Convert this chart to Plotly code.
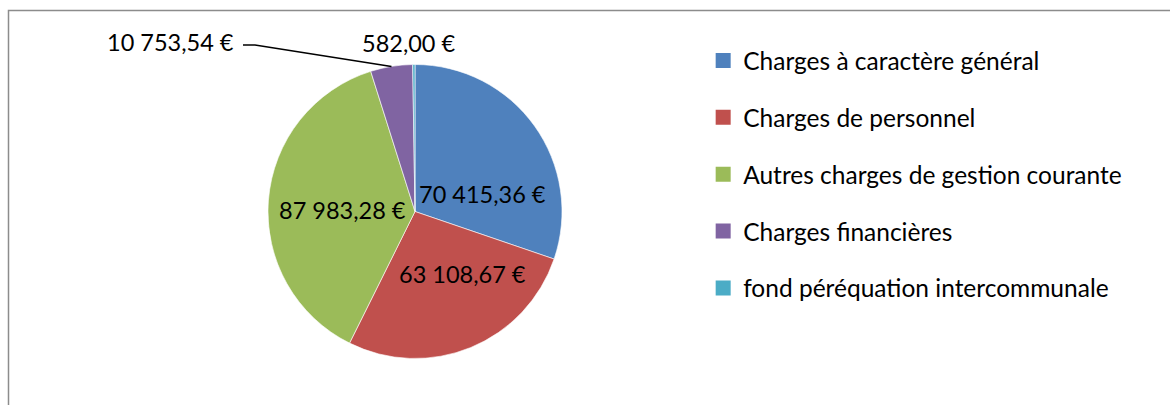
import math
import plotly.graph_objects as go

labels = ["Charges à caractère général", "Charges de personnel",
          "Autres charges de gestion courante", "Charges financières",
          "fond péréquation intercommunale"]
values = [70415.36, 63108.67, 87983.28, 10753.54, 582.00]
colors = ["#4F81BD", "#C0504D", "#9BBB59", "#8064A2", "#4BACC6"]

W, H = 1170, 405
FONT = "Lato"
FS_LAB = 23.5
FS_LEG = 24.5

# pie geometry (pixels)
cx_px, cy_px, r_px = 415, 211.5, 147
# label placement offsets from pie centre (px), like Excel "best fit"
inside_offsets = [(67.5, -17.5), (47, 62.5), (-72.5, -1.5)]


def fmt(v):
    s = f"{v:,.2f}"
    return s.replace(",", " ").replace(".", ",") + " €"


def edge_point(i):
    total = sum(values)
    start = sum(values[:i]) / total * 360
    mid = start + values[i] / total * 180
    a = math.radians(mid)
    return cx_px + r_px * math.sin(a), cy_px - r_px * math.cos(a)


def P(x, y):
    return x / W, 1 - y / H


fig = go.Figure()
x0, y0 = P(cx_px - r_px, cy_px + r_px)
x1, y1 = P(cx_px + r_px, cy_px - r_px)
fig.add_trace(go.Pie(
    labels=labels, values=values, sort=False, direction="clockwise",
    rotation=0,
    marker=dict(colors=colors, line=dict(color="white", width=0.6)),
    textinfo="none",
    domain=dict(x=[x0, x1], y=[y0, y1]),
    showlegend=False, hoverinfo="label+value",
))

for lab, col in zip(labels, colors):
    fig.add_trace(go.Scatter(
        x=[None], y=[None], mode="markers", name=lab, legendgroup=lab,
        marker=dict(symbol="square", size=15, color=col, line=dict(width=0)),
    ))

lab_font = dict(family=FONT, size=FS_LAB, color="black")

# inside labels
for v, (dx, dy) in zip(values[:3], inside_offsets):
    ax_, ay_ = P(cx_px + dx, cy_px + dy)
    fig.add_annotation(x=ax_, y=ay_, xref="paper", yref="paper", text=fmt(v),
                       showarrow=False, xanchor="center", yanchor="middle",
                       font=lab_font)

# outside labels
ex, ey = edge_point(3)
ax_, ay_ = P(236, 42)
fig.add_annotation(x=ax_, y=ay_, xref="paper", yref="paper",
                   text=fmt(values[3]), showarrow=False, xanchor="right",
                   yanchor="middle", font=lab_font)
fig.add_shape(type="path", xref="paper", yref="paper",
              path=f"M {243/W} {1-45/H} L {255/W} {1-45/H} L {ex/W} {1-ey/H}",
              line=dict(color="black", width=1.5))
cxe, cye = edge_point(4)
ax_, ay_ = P(cxe - 5, cye - 22)
fig.add_annotation(x=ax_, y=ay_, xref="paper", yref="paper",
                   text=fmt(values[4]), showarrow=False, xanchor="center",
                   yanchor="middle", font=lab_font)

# chart frame
fig.add_shape(type="rect", xref="paper", yref="paper",
              x0=8.5 / W, x1=1.2, y0=-0.2, y1=1 - 10.5 / H,
              line=dict(color="#8C8C8C", width=1.5), fillcolor="rgba(0,0,0,0)")

fig.update_layout(
    width=W, height=H, margin=dict(l=0, r=0, t=0, b=0),
    paper_bgcolor="white", plot_bgcolor="white",
    font=dict(family=FONT, size=FS_LEG, color="black"),
    xaxis=dict(visible=False), yaxis=dict(visible=False),
    legend=dict(x=0.601, y=0.906, xanchor="left", yanchor="top",
                tracegroupgap=22, font=dict(family=FONT, size=FS_LEG, color="black"),
                bgcolor="rgba(0,0,0,0)"),
)

fig.write_html("out.html", config={"displayModeBar": False},
               post_script="document.body.style.margin='0';")
